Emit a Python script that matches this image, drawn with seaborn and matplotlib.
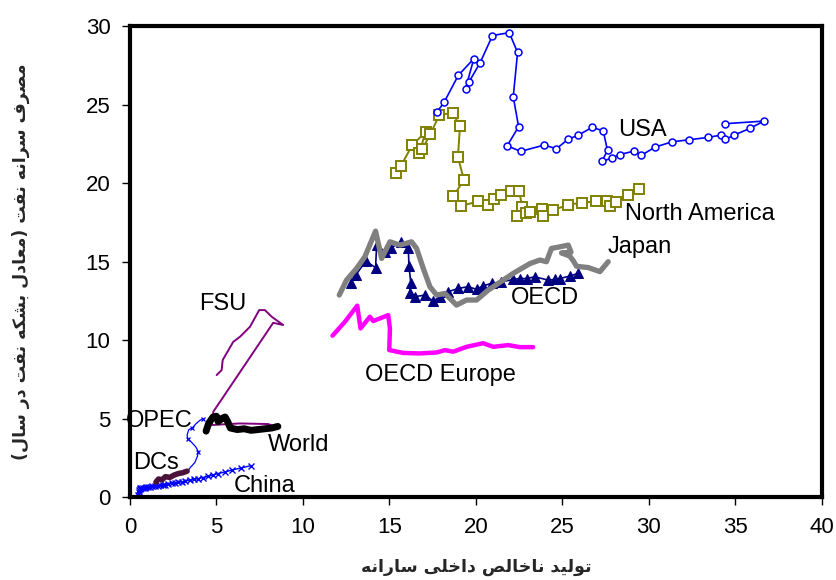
import matplotlib
matplotlib.use("Agg")
import matplotlib.pyplot as plt
import seaborn as sns

# --- data: GDP per capita (x) vs oil use per capita (y)
usa_x = [17.76, 18.17, 18.98, 19.88, 19.40, 19.61, 20.25, 20.96, 21.93, 22.41, 22.16, 22.47,
         21.81, 22.58, 23.95, 24.66, 25.34, 25.90, 26.72, 27.36, 27.61, 27.28, 27.86, 28.32,
         29.15, 29.56, 30.35, 31.35, 32.33, 33.43, 34.18, 34.43, 34.93, 35.84, 36.65, 34.39]
usa_y = [24.54, 25.16, 26.86, 27.92, 26.01, 26.46, 27.68, 29.40, 29.58, 28.32, 25.50, 23.59,
         22.38, 22.02, 22.42, 22.19, 22.80, 23.04, 23.55, 23.33, 22.08, 21.38, 21.59, 21.82,
         22.04, 21.76, 22.29, 22.63, 22.76, 22.91, 23.06, 22.78, 23.06, 23.48, 23.95, 23.78]

nam_x = [15.38, 15.66, 16.32, 17.09, 16.72, 16.90, 17.36, 17.88, 18.65, 19.08, 18.96, 19.31,
         18.69, 19.13, 20.15, 20.71, 21.02, 21.43, 22.02, 22.50, 22.68, 22.37, 22.87, 23.12,
         23.80, 23.89, 24.47, 25.34, 26.11, 26.94, 27.59, 27.75, 28.11, 28.82, 29.42]
nam_y = [20.64, 21.08, 22.42, 23.25, 21.89, 22.17, 23.10, 24.33, 24.48, 23.61, 21.66, 20.21,
         19.15, 18.55, 18.83, 18.62, 18.96, 19.21, 19.51, 19.47, 18.49, 17.90, 18.11, 18.17,
         18.32, 17.92, 18.28, 18.62, 18.75, 18.83, 18.83, 18.55, 18.81, 19.21, 19.64]

oecd_x = [12.76, 13.05, 13.64, 14.20, 14.26, 14.74, 15.12, 15.66, 16.09, 16.13, 16.24, 16.18,
          16.47, 17.05, 17.53, 17.92, 18.40, 18.98, 19.55, 20.04, 20.42, 20.91, 21.48, 22.16,
          22.54, 22.93, 23.41, 24.18, 24.57, 24.86, 25.43, 25.92]
oecd_y = [13.61, 14.14, 15.03, 14.61, 16.05, 15.63, 15.88, 16.26, 15.88, 14.73, 13.61, 12.97,
          12.76, 12.87, 12.48, 12.76, 13.08, 13.29, 13.40, 13.23, 13.46, 13.61, 13.71, 13.86,
          13.92, 13.92, 14.03, 13.82, 13.86, 13.92, 14.08, 14.25]

japan_x = [12.10, 12.52, 13.10, 13.58, 14.20, 14.55, 15.03, 15.61, 16.28, 16.57, 16.96, 17.34,
           17.73, 18.21, 18.88, 19.46, 20.04, 20.71, 22.16, 23.12, 23.70, 24.08, 24.37, 24.86,
           25.34, 25.50, 24.95, 25.43, 25.63, 25.82, 26.49, 27.17, 27.65]
japan_y = [12.87, 13.82, 14.56, 15.31, 16.94, 15.20, 16.26, 16.05, 16.26, 15.84, 14.56, 13.40,
           12.87, 12.97, 12.23, 12.55, 12.55, 13.18, 14.25, 14.87, 15.10, 14.99, 15.84, 15.94,
           16.05, 15.60, 15.55, 15.35, 15.05, 14.70, 14.62, 14.36, 14.99]

eur_x = [11.71, 12.43, 13.14, 13.33, 13.87, 14.06, 14.93, 15.03, 14.99, 15.80, 16.76, 17.73,
         18.21, 18.69, 19.46, 20.42, 21.00, 21.87, 22.54, 23.31]
eur_y = [10.28, 11.17, 12.19, 10.74, 11.49, 11.21, 11.59, 10.74, 9.36, 9.18, 9.15, 9.21,
         9.36, 9.26, 9.57, 9.80, 9.57, 9.68, 9.55, 9.55]

fsu_x = [5.01, 5.30, 5.36, 5.97, 6.36, 6.94, 7.47, 7.80, 8.19, 8.86, 8.28, 4.82, 4.72, 6.36, 8.00, 8.28]
fsu_y = [7.77, 8.09, 8.73, 9.89, 10.21, 10.85, 11.91, 11.91, 11.49, 10.96, 11.10, 5.44, 4.59, 4.69, 4.65, 4.52]

world_x = [4.40, 4.55, 4.80, 5.00, 5.10, 5.30, 5.50, 5.65, 5.80, 6.20, 6.60, 7.00, 7.40, 7.80, 8.20, 8.55]
world_y = [4.20, 4.70, 5.10, 5.15, 4.80, 5.00, 5.10, 4.80, 4.40, 4.30, 4.35, 4.25, 4.30, 4.35, 4.40, 4.50]

dcs_x = [1.50, 1.65, 1.85, 2.05, 2.30, 2.55, 2.80, 3.05, 3.30]
dcs_y = [0.95, 1.15, 1.10, 1.30, 1.25, 1.40, 1.50, 1.55, 1.65]

opec_x = [3.30, 3.50, 3.75, 3.90, 3.95, 3.80, 3.55, 3.35, 3.30, 3.40, 3.60, 3.80, 4.00, 4.20]
opec_y = [1.60, 1.90, 2.20, 2.60, 2.90, 3.20, 3.50, 3.70, 3.95, 4.30, 4.40, 4.65, 4.85, 5.00]

china_x = [0.45, 0.50, 0.50, 0.55, 0.60, 0.65, 0.75, 0.85, 0.95, 1.05, 1.15, 1.30, 1.45, 1.60,
           1.75, 1.90, 2.05, 2.20, 2.40, 2.60, 2.80, 3.00, 3.20, 3.45, 3.70, 3.95, 4.20, 4.50,
           4.80, 5.10, 5.50, 5.90, 6.40, 7.00]
china_y = [0.15, 0.30, 0.45, 0.55, 0.50, 0.60, 0.55, 0.60, 0.62, 0.62, 0.65, 0.68, 0.70, 0.72,
           0.75, 0.78, 0.80, 0.83, 0.87, 0.90, 0.93, 0.98, 1.02, 1.07, 1.12, 1.18, 1.24, 1.32,
           1.40, 1.50, 1.60, 1.72, 1.85, 2.00]

x_ticks = [0, 5, 10, 15, 20, 25, 30, 35, 40]
y_ticks = [0, 5, 10, 15, 20, 25, 30]

xlabel_fa = "تولید ناخالص داخلی سارانه"
ylabel_fa = "مصرف سرانه نفت (معادل بشکه نفت در سال)"

# --- minimal Persian shaping (matplotlib has no RTL / joining support)
FORMS = {
    'ا': ('\uFE8D', '\uFE8E'),
    'ب': ('\uFE8F', '\uFE90', '\uFE91', '\uFE92'),
    'ت': ('\uFE95', '\uFE96', '\uFE97', '\uFE98'),
    'خ': ('\uFEA5', '\uFEA6', '\uFEA7', '\uFEA8'),
    'د': ('\uFEA9', '\uFEAA'),
    'ر': ('\uFEAD', '\uFEAE'),
    'س': ('\uFEB1', '\uFEB2', '\uFEB3', '\uFEB4'),
    'ش': ('\uFEB5', '\uFEB6', '\uFEB7', '\uFEB8'),
    'ص': ('\uFEB9', '\uFEBA', '\uFEBB', '\uFEBC'),
    'ع': ('\uFEC9', '\uFECA', '\uFECB', '\uFECC'),
    'ف': ('\uFED1', '\uFED2', '\uFED3', '\uFED4'),
    'ل': ('\uFEDD', '\uFEDE', '\uFEDF', '\uFEE0'),
    'م': ('\uFEE1', '\uFEE2', '\uFEE3', '\uFEE4'),
    'ن': ('\uFEE5', '\uFEE6', '\uFEE7', '\uFEE8'),
    'ه': ('\uFEE9', '\uFEEA', '\uFEEB', '\uFEEC'),
    'و': ('\uFEED', '\uFEEE'),
    'ک': ('\uFB8E', '\uFB8F', '\uFB90', '\uFB91'),
    'ی': ('\uFBFC', '\uFBFD', '\uFBFE', '\uFBFF'),
}


def shape_fa(text):
    out = []
    for i, ch in enumerate(text):
        f = FORMS.get(ch)
        if f is None:
            out.append(ch)
            continue
        prev = text[i - 1] if i > 0 else ''
        nxt = text[i + 1] if i + 1 < len(text) else ''
        join_prev = prev in FORMS and len(FORMS[prev]) == 4
        join_next = len(f) == 4 and nxt in FORMS
        if join_prev and join_next:
            out.append(f[3])
        elif join_prev:
            out.append(f[1])
        elif join_next:
            out.append(f[2])
        else:
            out.append(f[0])
    vis = ''.join(reversed(out))
    return vis.translate(str.maketrans({'(': ')', ')': '('}))


sns.set_style("white")
plt.rcParams['font.family'] = ['Liberation Sans', 'DejaVu Sans']

fig = plt.figure(figsize=(8.36, 5.8), dpi=100)
ax = fig.add_axes([0.1555, 0.143, 0.8275, 0.812])

# paths are drawn in the order they were read, so no sorting / aggregation
common = dict(sort=False, estimator=None, errorbar=None, ax=ax)
sns.lineplot(x=nam_x, y=nam_y, color='#808000', lw=1.4, marker='s', ms=7,
             mfc='white', mec='#808000', mew=1.4, **common)
sns.lineplot(x=usa_x, y=usa_y, color='#0000ff', lw=1.2, marker='o', ms=5,
             mfc='white', mec='#0000ff', mew=1.1, **common)
sns.lineplot(x=oecd_x, y=oecd_y, color='#000080', lw=1.2, marker='^', ms=7,
             mfc='#000080', mec='#000080', **common)
sns.lineplot(x=japan_x, y=japan_y, color='#808080', lw=3.8, **common)
sns.lineplot(x=eur_x, y=eur_y, color='#ff00ff', lw=3.2, **common)
sns.lineplot(x=fsu_x, y=fsu_y, color='#800080', lw=1.4, **common)
sns.lineplot(x=world_x, y=world_y, color='black', lw=5, **common)
sns.lineplot(x=opec_x, y=opec_y, color='#0000ff', lw=0.9, marker='x', ms=3.5,
             mec='#0000ff', mew=0.9, markevery=[4, 7, 10, 13], **common)
sns.lineplot(x=china_x, y=china_y, color='#0000ff', lw=1.0, marker='x', ms=4,
             mec='#0000ff', mew=1.0, **common)
sns.lineplot(x=dcs_x, y=dcs_y, color='#4a1238', lw=4, **common)

lab = dict(fontsize=17, color='black', va='center', ha='left')
ax.text(28.2, 23.4, "USA", **lab)
ax.text(28.6, 18.0, "North America", **lab)
ax.text(27.6, 15.9, "Japan", **lab)
ax.text(22.0, 12.7, "OECD", **lab)
ax.text(13.6, 7.8, "OECD Europe", **lab)
ax.text(4.0, 12.3, "FSU", **lab)
ax.text(-0.23, 4.84, "OPEC", **lab)
ax.text(8.0, 3.3, "World", **lab)
ax.text(0.17, 2.17, "DCs", **lab)
ax.text(6.0, 0.7, "China", **lab)

ax.set_xlim(0, 40)
ax.set_ylim(0, 30)
ax.set_xticks(x_ticks)
ax.set_yticks(y_ticks)
ax.tick_params(axis='both', which='major', direction='out', length=6, width=1,
               labelsize=16, pad=8, bottom=True, left=True, colors='black')
for sp in ax.spines.values():
    sp.set_linewidth(3)
    sp.set_color('black')
    sp.set_zorder(10)

fa_font = dict(family=['DejaVu Sans'], fontweight='bold', fontsize=12.5)
ax.set_xlabel(shape_fa(xlabel_fa), labelpad=15, **fa_font)
ax.set_ylabel(shape_fa(ylabel_fa), labelpad=40, **fa_font)

fig.savefig("out.png", dpi=100, facecolor='white')
